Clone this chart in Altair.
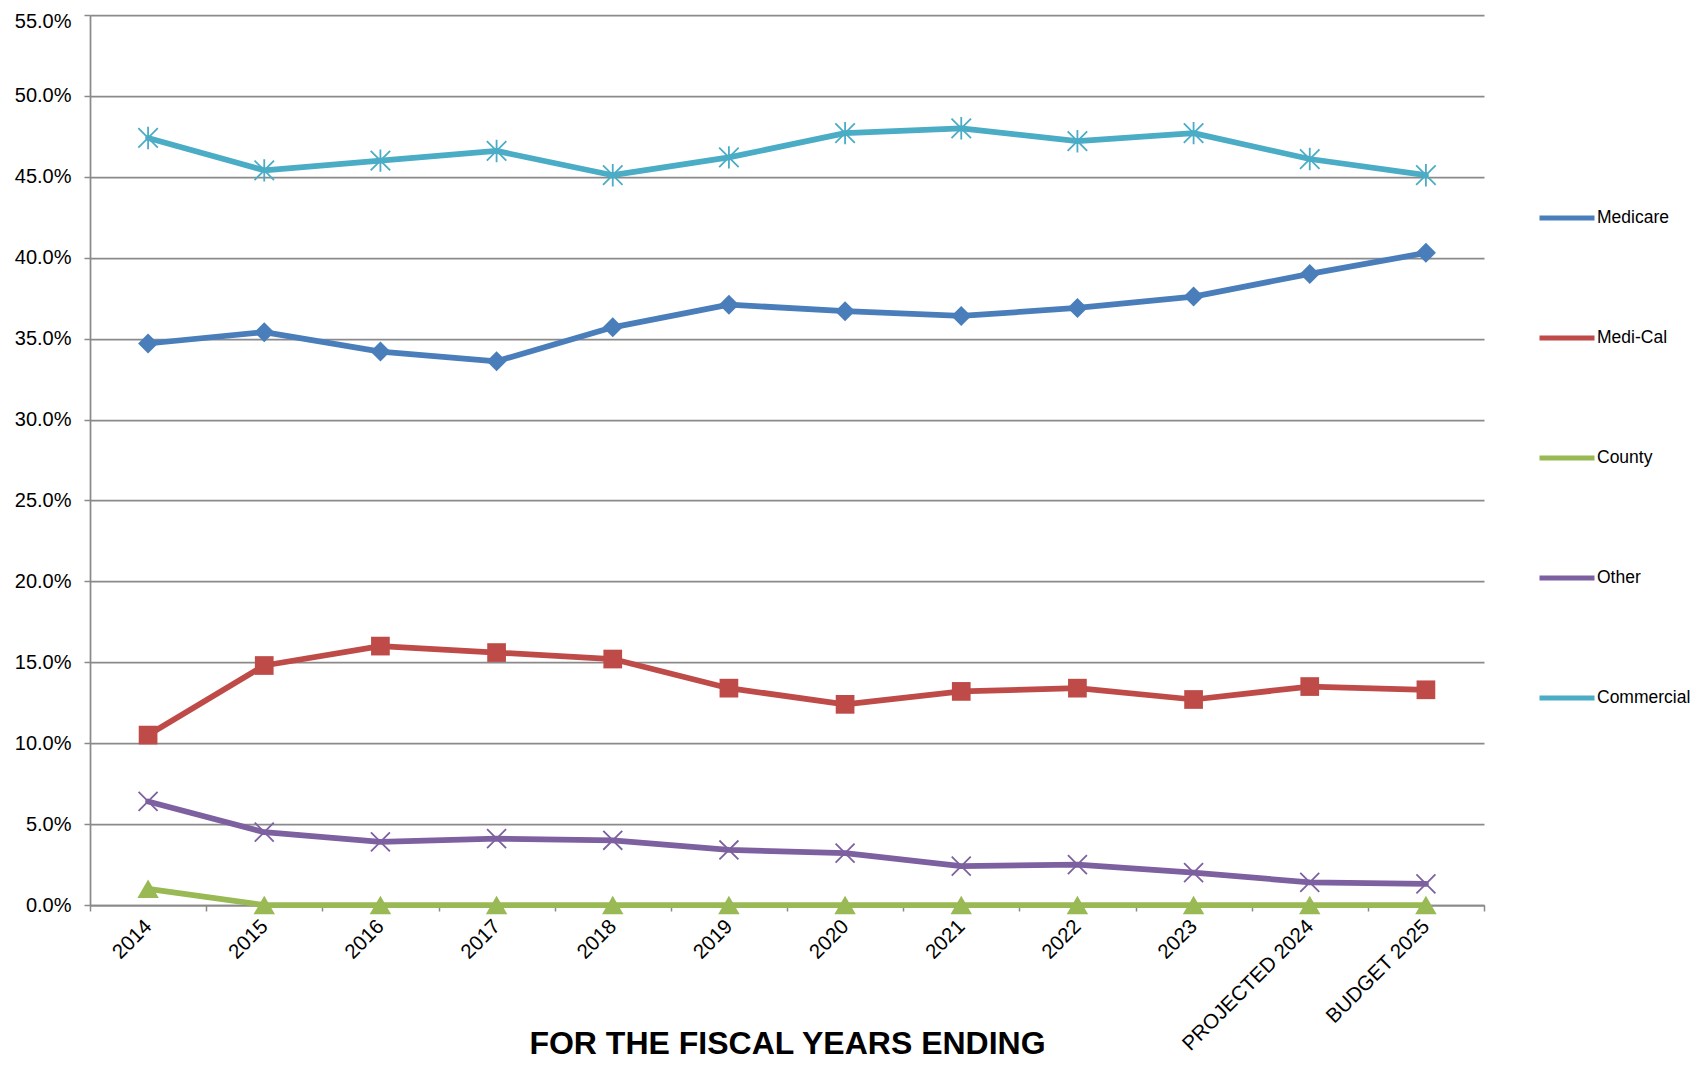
import altair as alt
import pandas as pd

years = ["2014", "2015", "2016", "2017", "2018", "2019", "2020", "2021",
         "2022", "2023", "PROJECTED 2024", "BUDGET 2025"]
series = ["Medicare", "Medi-Cal", "County", "Other", "Commercial"]

medicare = [34.7, 35.4, 34.2, 33.6, 35.7, 37.1, 36.7, 36.4, 36.9, 37.6, 39.0, 40.3]
medi_cal = [10.5, 14.8, 16.0, 15.6, 15.2, 13.4, 12.4, 13.2, 13.4, 12.7, 13.5, 13.3]
county = [1.0, 0.0, 0.0, 0.0, 0.0, 0.0, 0.0, 0.0, 0.0, 0.0, 0.0, 0.0]
other = [6.4, 4.5, 3.9, 4.1, 4.0, 3.4, 3.2, 2.4, 2.5, 2.0, 1.4, 1.3]
commercial = [47.4, 45.4, 46.0, 46.6, 45.1, 46.2, 47.7, 48.0, 47.2, 47.7, 46.1, 45.1]

colors = ["#4A7EBB", "#BE4B48", "#98B954", "#7D60A0", "#4BACC6"]
y_ticks = [0.0, 0.05, 0.10, 0.15, 0.20, 0.25, 0.30, 0.35, 0.40, 0.45, 0.50, 0.55]

values = {"Medicare": medicare, "Medi-Cal": medi_cal, "County": county,
          "Other": other, "Commercial": commercial}
rows = []
for s in series:
    for yr, v in zip(years, values[s]):
        rows.append({"year": yr, "series": s, "value": v / 100.0})
df = pd.DataFrame(rows)

FONT = "Liberation Sans"
GRID = "#8A8A8A"
W, H = 1394, 890

x_enc = alt.X(
    "year:N", sort=years,
    scale=alt.Scale(type="band", paddingInner=0, paddingOuter=0),
    bandPosition=0.5,
    axis=alt.Axis(
        title="FOR THE FISCAL YEARS ENDING", titleFont=FONT, titleFontSize=32,
        titleFontWeight="bold", titleColor="#000000", titleX=W / 2, titleY=148,
        titleAlign="center", titleBaseline="alphabetic",
        labelAngle=-45, labelAlign="right", labelBaseline="middle",
        labelFont=FONT, labelFontSize=20.5, labelColor="#000000", labelPadding=12,
        tickBand="extent", tickSize=6, tickColor=GRID, tickWidth=1.5,
        domainColor=GRID, domainWidth=1.75, grid=False,
    ),
)
y_enc = alt.Y(
    "value:Q",
    scale=alt.Scale(domain=[0, 0.55], nice=False, zero=True),
    axis=alt.Axis(
        title=None, values=y_ticks, format=".1%",
        labelFont=FONT, labelFontSize=20, labelColor="#000000", labelPadding=13,
        labelOffset={"condition": {"test": "datum.value >= 0.549", "value": 6}, "value": 0},
        tickSize=6, tickColor=GRID, tickWidth=1.5,
        domainColor=GRID, domainWidth=1.75,
        grid=True, gridColor=GRID, gridWidth=1.75,
    ),
)

lines = alt.Chart(df).mark_line(strokeWidth=5.75, strokeCap="round", strokeJoin="round").encode(
    x=x_enc, y=y_enc,
    color=alt.Color(
        "series:N",
        scale=alt.Scale(domain=series, range=colors),
        sort=series,
        legend=alt.Legend(
            title=None, orient="none", legendX=1447, legendY=173,
            direction="vertical", symbolType="stroke", symbolSize=3025,
            symbolStrokeWidth=5, labelFont=FONT, labelFontSize=17.5,
            labelColor="#000000", labelOffset=0, rowPadding=80, padding=0,
        ),
    ),
    detail="series:N",
)

marker_styles = [
    ("Medicare", "diamond", 400, True, 0),
    ("Medi-Cal", "square", 350, True, 0),
    ("County", "triangle-up", 460, True, 0),
    ("Other", "M-1,-1L1,1M-1,1L1,-1", 360, False, 1.8),
    ("Commercial", "M-1,-1L1,1M-1,1L1,-1M0,-1.15L0,1.15", 380, False, 1.8),
]

layers = [lines]
for name, shape, size, filled, sw in marker_styles:
    col = colors[series.index(name)]
    if filled:
        pts = alt.Chart(df).transform_filter(alt.datum.series == name).mark_point(
            shape=shape, size=size, filled=True, fill=col, strokeWidth=0, opacity=1
        ).encode(x=x_enc, y=y_enc)
    else:
        pts = alt.Chart(df).transform_filter(alt.datum.series == name).mark_point(
            shape=shape, size=size, filled=False, stroke=col, strokeWidth=sw, opacity=1
        ).encode(x=x_enc, y=y_enc)
    layers.append(pts)

chart = alt.layer(*layers).properties(
    width=W, height=H,
    padding={"left": 82, "top": 7, "right": 212, "bottom": 155},
    autosize=alt.AutoSizeParams(type="none"),
    background="#FFFFFF",
).configure_view(stroke=None)

chart.save("out.html", embed_options={"renderer": "svg", "actions": False})
